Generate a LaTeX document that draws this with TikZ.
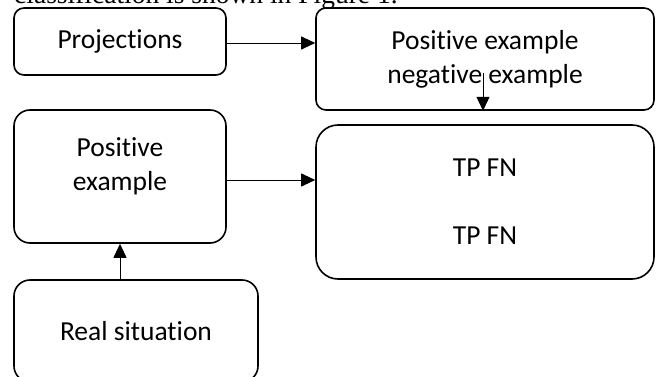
\documentclass[tikz,border=0pt]{standalone}
\usepackage{fontspec}
\setmainfont{Carlito}[Ligatures=NoCommon]
\newfontfamily\captionfont{Liberation Serif}
\usetikzlibrary{arrows.meta,positioning}

\tikzset{
	box/.style={draw, line width=1.6pt, rounded corners=#1, align=center},
	box/.default=10pt,
	flow/.style={line width=0.9pt, -{Triangle[length=14pt,width=13pt]}}
}

\begin{document}
\begin{tikzpicture}[x=1pt,y=-1pt]
		\fontsize{27.5}{34}\selectfont
		\useasboundingbox (0,0) rectangle (658,377);
		
		%Cut-off line of the text above
		\node[anchor=base west, inner sep=0pt, font=\captionfont] (captionline) at (14,4) {classification is shown in Figure 1.};
		
		%Boxes
		\node[box, minimum width=212pt, minimum height=67pt] (proj) at (120,41.5) {Projections};
		\node[box, minimum width=338pt, minimum height=102pt] (posneg) at (485,59) {Positive example\\negative example};
		\node[box=16pt, minimum width=212pt, minimum height=133pt] (posex) at (120,176.5) {};
		\node[align=center] (posextext) at (120,166) {Positive\\example};
		\node[box=22pt, minimum width=338pt, minimum height=154pt] (tpfn) at (485,202) {TP FN\\[34pt]TP FN};
		\node[box=16pt, minimum width=244pt, minimum height=102pt] (real) at (136,331) {Real situation};
		
		%Arrows
		\coordinate (split) at (483,73);
		\draw[flow] ([yshift=-1.5pt]proj.east) -- ([yshift=-1.5pt]proj.east -| posneg.west);
		\draw[flow] (split) -- (split |- posneg.south);
		\draw[flow] ([yshift=-3.5pt]posex.east) -- ([yshift=-3.5pt]posex.east -| tpfn.west);
		\draw[flow] (posex.south |- real.north) -- (posex.south);
	\end{tikzpicture}
\end{document}
